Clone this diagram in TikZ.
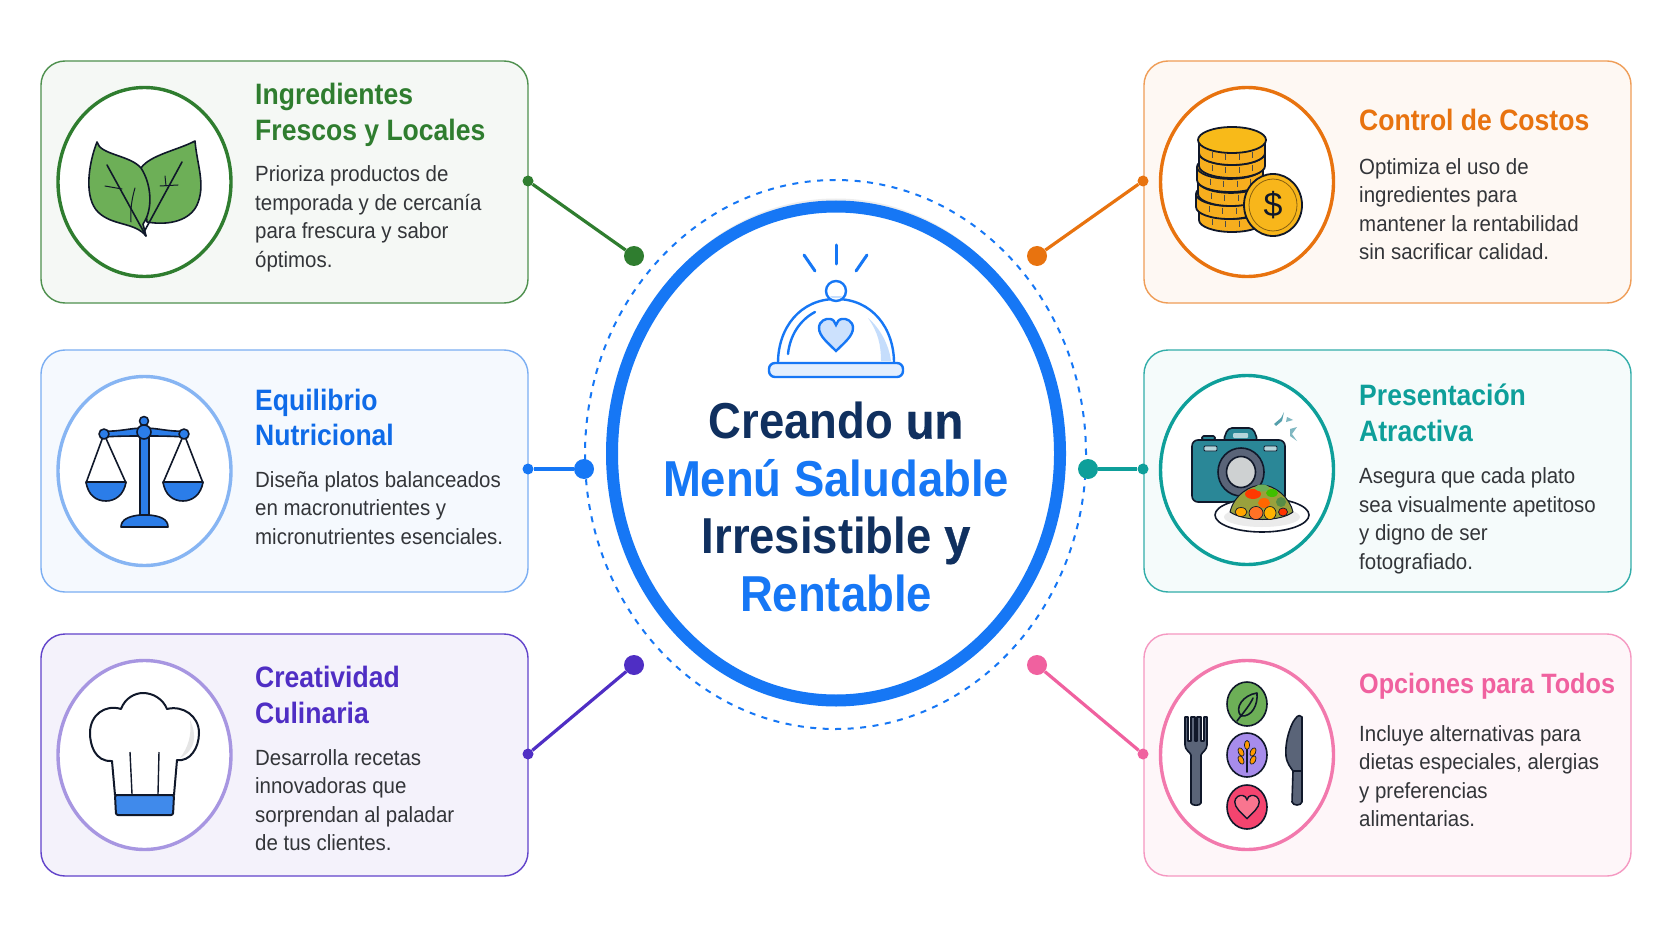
\documentclass[tikz,border=0pt]{standalone}
\usepackage{xcolor}
\usepackage{fontspec}
\usepackage{tikz}
\usetikzlibrary{shapes.geometric,shadows}
\setmainfont{Liberation Sans}
\newfontfamily\headfont[FakeStretch=0.9]{Liberation Sans}
\newfontfamily\copyfont[FakeStretch=0.93]{Liberation Sans}
\newfontfamily\middlefont[FakeStretch=0.93,FakeBold=0.6]{Liberation Sans}

\definecolor{ink}{HTML}{10305F}
\definecolor{copyink}{HTML}{333539}
\definecolor{outline}{HTML}{10182A}
\definecolor{hubblue}{HTML}{1677F5}
\definecolor{freshgreen}{HTML}{2F7D2F}
\definecolor{balanceblue}{HTML}{0F6BE8}
\definecolor{craftviolet}{HTML}{4F2EC4}
\definecolor{costorange}{HTML}{E8730F}
\definecolor{showteal}{HTML}{0E9F9A}
\definecolor{optionpink}{HTML}{F0619F}
\definecolor{leaffill}{HTML}{6DAF57}
\definecolor{scalefill}{HTML}{2B7DE9}
\definecolor{coinfill}{HTML}{F7AE1E}
\definecolor{camerafill}{HTML}{2A8797}
\definecolor{cutlery}{HTML}{5A6478}
\definecolor{grainviolet}{HTML}{A78CEB}

\tikzset{
    cardbox/.style 2 args={draw=#1, fill=#2, rounded corners=24pt, line width=1.4pt,
        minimum width=487pt, minimum height=242pt, inner sep=0pt},
    iconring/.style={ellipse, draw=#1, fill=white, line width=3.4pt,
        minimum width=173pt, minimum height=189pt, inner sep=0pt},
    cardhead/.style={text=#1, anchor=west, align=left, inner sep=0pt,
        font=\headfont\bfseries\fontsize{29.5}{35.5}\selectfont},
    cardcopy/.style={text=copyink, anchor=west, align=left, inner sep=0pt,
        font=\copyfont\fontsize{22}{28.5}\selectfont},
    bigdot/.style={circle, fill=#1, minimum size=20pt, inner sep=0pt},
    smalldot/.style={circle, fill=#1, minimum size=11pt, inner sep=0pt},
    link/.style={draw=#1, line width=3.2pt},
    iconline/.style={draw=outline, line width=1.6pt, line join=round, line cap=round},
    heartmark/.pic={
        \path[pic actions, yscale=-1] (0,16) .. controls (-8,8) and (-17,1) .. (-17,-7)
            .. controls (-17,-14) and (-10,-17) .. (-6,-16)
            .. controls (-3,-16) and (-1,-13) .. (0,-10)
            .. controls (1,-13) and (3,-16) .. (6,-16)
            .. controls (10,-17) and (17,-14) .. (17,-7)
            .. controls (17,1) and (8,8) .. (0,16) -- cycle;
    },
    coinlayer/.pic={
        \begin{scope}[yscale=-1]
        \path[pic actions] (-33,0) -- (-33,13) arc (180:0:33 and 12) -- (33,0) arc (0:-180:33 and 12) -- cycle;
        \draw[line width=1.6pt, draw=outline] (-33,0) arc (180:0:33 and 12);
        \draw[line width=.8pt, draw=black!70] (-20,12) -- (-20,18) (-7,14) -- (-7,20) (7,14) -- (7,20) (20,12) -- (20,18);
        \end{scope}
    },
    coinstyle/.style={fill=coinfill, draw=outline, line width=1.8pt, line join=round},
}

\begin{document}
\begin{tikzpicture}[x=1pt, y=1pt, yscale=-1]
    \useasboundingbox[fill=white] (0, 0) rectangle (1672, 941);

    % cards
    \node[cardbox={freshgreen!85}{freshgreen!5}] (freshcard) at (284.5, 182) {};
    \node[cardbox={balanceblue!55!white}{balanceblue!4}] (balancecard) at (284.5, 471) {};
    \node[cardbox={craftviolet!90}{craftviolet!6}] (craftcard) at (284.5, 755) {};
    \node[cardbox={costorange!70!white}{costorange!5}] (costcard) at (1387.5, 182) {};
    \node[cardbox={showteal!85}{showteal!4}] (showcard) at (1387.5, 471) {};
    \node[cardbox={optionpink!65!white}{optionpink!6}] (optioncard) at (1387.5, 755) {};

    % rings
    \node[iconring=freshgreen] (freshring) at (144.5, 182) {};
    \node[iconring=balanceblue!50!white] (balancering) at (144.5, 471) {};
    \node[iconring=craftviolet!50!white] (craftring) at (144.5, 755) {};
    \node[iconring=costorange] (costring) at (1247, 182) {};
    \node[iconring=showteal] (showring) at (1247, 470) {};
    \node[iconring=optionpink!85!white] (optionring) at (1247, 755) {};

    % texts of the cards
    \node[cardhead=freshgreen] (freshhead) at (255, 115) {Ingredientes\\Frescos y Locales};
    \node[cardcopy] (freshcopy) at (255, 219) {Prioriza productos de\\temporada y de cercanía\\para frescura y sabor\\óptimos.};
    \node[cardhead=balanceblue] (balancehead) at (255, 417.5) {Equilibrio\\Nutricional};
    \node[cardcopy] (balancecopy) at (255, 508) {Diseña platos balanceados\\en macronutrientes y\\micronutrientes esenciales.};
    \node[cardhead=craftviolet] (crafthead) at (255, 695) {Creatividad\\Culinaria};
    \node[cardcopy] (craftcopy) at (255, 800) {Desarrolla recetas\\innovadoras que\\sorprendan al paladar\\de tus clientes.};
    \node[cardhead=costorange] (costhead) at (1359, 120) {Control de Costos};
    \node[cardcopy] (costcopy) at (1359, 209) {Optimiza el uso de\\ingredientes para\\mantener la rentabilidad\\sin sacrificar calidad.};
    \node[cardhead=showteal] (showhead) at (1359, 413) {Presentación\\Atractiva};
    \node[cardcopy] (showcopy) at (1359, 521) {Asegura que cada plato\\sea visualmente apetitoso\\y digno de ser\\fotografiado.};
    \node[cardhead=optionpink, font=\headfont\bfseries\fontsize{28}{35}\selectfont] (optionhead) at (1359, 686) {Opciones para Todos};
    \node[cardcopy] (optioncopy) at (1359, 776) {Incluye alternativas para\\dietas especiales, alergias\\y preferencias\\alimentarias.};

    % central disc
    \node[ellipse, draw=hubblue, dash pattern=on 6pt off 6.5pt, line width=2pt, minimum width=501pt, minimum height=549pt, inner sep=0pt] (hubring) at (835.5, 454.5) {};
    \node[ellipse, draw=hubblue, fill=white, line width=12pt, minimum width=448pt, minimum height=494pt, inner sep=0pt,
        drop shadow={opacity=.14, shadow xshift=0pt, shadow yshift=8pt}] (hub) at (836, 453.5) {};
    \node[align=center, inner sep=0pt, text=ink, font=\headfont\fontsize{50.5}{57.6}\selectfont] (hubtitle) at (836, 507)
        {\bfseries Creando {\middlefont un}\\\bfseries\textcolor{hubblue}{Menú Saludable}\\\bfseries Irresistible {\middlefont y}\\\bfseries\textcolor{hubblue}{Rentable}};

    % connectors
    \node[smalldot=freshgreen] (freshtab) at (528, 181) {};
    \node[bigdot=freshgreen] (freshdot) at (634, 256) {};
    \draw[link=freshgreen] (freshtab) -- (freshdot);
    \node[smalldot=hubblue] (balancetab) at (528, 469) {};
    \node[bigdot=hubblue] (balancedot) at (584, 469) {};
    \draw[link=hubblue] (balancetab) -- (balancedot);
    \node[smalldot=craftviolet] (crafttab) at (528, 754) {};
    \node[bigdot=craftviolet] (craftdot) at (634, 665) {};
    \draw[link=craftviolet] (crafttab) -- (craftdot);
    \node[smalldot=costorange] (costtab) at (1143, 181) {};
    \node[bigdot=costorange] (costdot) at (1037, 256) {};
    \draw[link=costorange] (costtab) -- (costdot);
    \node[smalldot=showteal] (showtab) at (1143, 469) {};
    \node[bigdot=showteal] (showdot) at (1088, 469) {};
    \draw[link=showteal] (showtab) -- (showdot);
    \node[smalldot=optionpink] (optiontab) at (1143, 754) {};
    \node[bigdot=optionpink] (optiondot) at (1037, 665) {};
    \draw[link=optionpink] (optiontab) -- (optiondot);

    % cloche
    \begin{scope}[draw=hubblue, line width=3pt, line cap=round]
        \draw (836, 245) -- (836, 264);
        \draw (804, 255) -- (815, 271);
        \draw (867, 255) -- (856, 271);
        \filldraw[line width=2.4pt, fill=white] (778, 363) .. controls (778, 328) and (800, 299) .. (836, 299) .. controls (872, 299) and (894, 328) .. (894, 363);
        \fill[hubblue!25] (868, 318) .. controls (880, 328) and (889, 345) .. (891, 361) -- (881, 361) .. controls (881, 345) and (878, 332) .. (868, 318) -- cycle;
        \draw[line width=2.4pt, fill=white] (836, 291) circle (10);
        \fill[hubblue!25] (830, 296) -- (842, 296) -- (840, 298) -- (832, 298) -- cycle;
        \draw[line width=2.4pt] (788, 354) .. controls (790, 335) and (800, 320) .. (815, 312);
        \draw[line width=2.4pt, fill=hubblue!12, rounded corners=6pt] (769, 363) rectangle (903, 377);
        \pic[draw=hubblue, fill=hubblue!22, line width=2.4pt] at (836, 335) {heartmark};
    \end{scope}

    % leaves
    \begin{scope}[iconline]
        \filldraw[fill=leaffill] (195, 141) .. controls (197, 165) and (206, 185) .. (197, 205) .. controls (190, 220) and (170, 226) .. (147, 222) -- (141, 168) .. controls (150, 155) and (178, 150) .. (195, 141) -- cycle;
        \filldraw[fill=leaffill] (97, 142) .. controls (100, 155) and (130, 155) .. (141, 168) .. controls (152, 185) and (153, 210) .. (143, 224) -- (146, 236) .. controls (135, 222) and (112, 226) .. (98, 212) .. controls (84, 198) and (88, 165) .. (97, 142) -- cycle;
        \draw (107, 165) -- (146, 236);
        \draw (182, 162) -- (144, 232);
        \draw[line width=1pt] (105, 186) -- (122, 189);
        \draw[line width=1pt] (131, 222) .. controls (130, 210) and (132, 198) .. (135, 188);
        \draw[line width=1pt] (160, 186) -- (178, 185);
        \draw[line width=1pt] (165, 176) -- (166, 186);
    \end{scope}

    % scale
    \begin{scope}[iconline]
        \draw (104, 434) -- (86, 483) (104, 434) -- (126, 483);
        \draw (184, 434) -- (163, 483) (184, 434) -- (203, 483);
        \filldraw[fill=scalefill] (86, 482) -- (126, 482) .. controls (124, 495) and (115, 501) .. (106, 501) .. controls (96, 501) and (88, 495) .. (86, 482) -- cycle;
        \filldraw[fill=scalefill] (163, 482) -- (203, 482) .. controls (201, 495) and (192, 501) .. (183, 501) .. controls (173, 501) and (165, 495) .. (163, 482) -- cycle;
        \filldraw[fill=scalefill] (104, 431) .. controls (118, 432) and (130, 428) .. (144, 428) .. controls (158, 428) and (170, 432) .. (184, 431) -- (184, 437) .. controls (170, 436) and (158, 436) .. (144, 436) .. controls (130, 436) and (118, 436) .. (104, 437) -- cycle;
        \filldraw[fill=scalefill] (140, 435) rectangle (149, 516);
        \filldraw[fill=scalefill] (121, 527) .. controls (121, 519) and (130, 516) .. (140, 515) -- (149, 515) .. controls (160, 516) and (168, 519) .. (168, 527) -- cycle;
        \filldraw[fill=scalefill] (104, 434) circle (5);
        \filldraw[fill=scalefill] (184, 434) circle (5);
        \filldraw[fill=scalefill] (144, 421) circle (4.5);
        \filldraw[fill=scalefill] (144, 432) circle (7);
    \end{scope}

    % chef hat
    \begin{scope}[draw=outline, line width=2pt, line join=round]
        \filldraw[fill=white] (115, 795) -- (112, 761) .. controls (95, 762) and (90, 745) .. (90, 733) .. controls (90, 715) and (105, 704) .. (121, 709) .. controls (125, 698) and (135, 693) .. (143, 693) .. controls (153, 693) and (163, 699) .. (167, 709) .. controls (183, 705) and (199, 716) .. (199, 733) .. controls (199, 748) and (190, 762) .. (177, 760) -- (174, 795) -- cycle;
        \fill[black!10] (190, 720) .. controls (197, 735) and (196, 750) .. (180, 758) .. controls (188, 748) and (192, 735) .. (190, 720) -- cycle;
        \draw[line width=1.4pt] (130, 752) -- (132, 794);
        \draw[line width=1.4pt] (159, 752) -- (158, 794);
        \filldraw[fill=scalefill!90!white, rounded corners=2pt] (115, 795) -- (174, 795) -- (173, 815) -- (116, 815) -- cycle;
    \end{scope}

    % coins
    \pic[coinstyle] at (1232, 207) {coinlayer};
    \pic[coinstyle] at (1229, 194) {coinlayer};
    \pic[coinstyle] at (1231, 181) {coinlayer};
    \pic[coinstyle] at (1230, 167) {coinlayer};
    \pic[coinstyle] at (1232, 153) {coinlayer};
    \pic[coinstyle] at (1232, 140) {coinlayer};
    \draw[coinstyle, fill=coinfill!85!yellow] (1232, 140) ellipse (34 and 13);
    \node[ellipse, draw=outline, fill=coinfill!90!yellow, line width=1.8pt, minimum width=58pt, minimum height=62pt, inner sep=0pt] (bigcoin) at (1273, 205) {};
    \node[ellipse, draw=black!45!coinfill, line width=.8pt, minimum width=48pt, minimum height=52pt, inner sep=0pt] (bigcoinrim) at (1273, 205) {};
    \node[text=outline, inner sep=0pt, font=\fontsize{34}{34}\selectfont] (dollar) at (1273, 205) {\$};

    % camera
    \begin{scope}[iconline]
        \filldraw[fill=camerafill, rounded corners=1.5pt] (1202, 440) -- (1202, 436) -- (1215, 436) -- (1215, 440) -- cycle;
        \filldraw[fill=camerafill, rounded corners=4pt] (1223, 441) -- (1228, 428) -- (1253, 428) -- (1258, 441) -- cycle;
        \filldraw[fill=camerafill, rounded corners=6pt] (1192, 440) rectangle (1285, 502);
        \fill[camerafill!35!white, rounded corners=1pt] (1233, 433) rectangle (1248, 438);
        \filldraw[line width=.8pt, fill=camerafill!35!white, rounded corners=1pt] (1204, 446) rectangle (1217, 451);
        \filldraw[line width=.8pt, fill=camerafill!35!white, rounded corners=1pt] (1264, 446) rectangle (1277, 451);
        \filldraw[fill=cutlery] (1241, 472) ellipse (23 and 24);
        \filldraw[fill=camerafill!20!black!20!white] (1241, 472) ellipse (14.5 and 15.5);
        \filldraw[fill=white] (1262, 515) ellipse (47 and 17);
        \fill[black!8] (1262, 517) ellipse (38 and 10);
        \filldraw[line width=1pt, fill=leaffill!70!orange] (1230, 512) .. controls (1234, 495) and (1250, 485) .. (1262, 485) .. controls (1275, 485) and (1290, 498) .. (1293, 512) .. controls (1280, 522) and (1245, 522) .. (1230, 512) -- cycle;
    \end{scope}
    \fill[red!55!orange] (1253, 494) ellipse (8 and 5);
    \fill[leaffill] (1262, 488) ellipse (7 and 3.5);
    \fill[green!50!olive] (1272, 493) ellipse (6 and 4);
    \fill[orange!80!red] (1264, 503) ellipse (6 and 5);
    \fill[leaffill!80!black] (1281, 502) ellipse (5 and 5);
    \filldraw[draw=outline, line width=.7pt, fill=orange!70!red!85!white] (1256, 513) ellipse (7 and 6.5);
    \filldraw[draw=outline, line width=.7pt, fill=orange!60!yellow] (1270, 513) ellipse (6 and 6.5);
    \filldraw[draw=outline, line width=.7pt, fill=orange!70!yellow] (1241, 512) ellipse (6 and 4.5);
    \filldraw[draw=outline, line width=.7pt, fill=red!60!orange] (1283, 512) ellipse (4.5 and 4);
    \fill[camerafill!80!white] (1274, 424) -- (1281, 418) -- (1284, 412) -- (1282, 421) -- (1276, 426) -- cycle;
    \fill[camerafill!60!white] (1287, 417) -- (1293, 420) -- (1286, 422) -- cycle;
    \fill[camerafill!60!white] (1290, 429) -- (1297, 427) -- (1292, 434) -- (1297, 441) -- (1290, 436) -- cycle;

    % cutlery and badges
    \begin{scope}[iconline, fill=cutlery]
        \filldraw (1185, 717) -- (1188, 717) -- (1188, 741) -- (1191, 741) -- (1191, 717) -- (1195, 717) -- (1195, 741) -- (1197, 741) -- (1197, 717) -- (1201, 717) -- (1201, 741) -- (1204, 741) -- (1204, 717) -- (1207, 717) -- (1207, 745) .. controls (1207, 750) and (1202, 752) .. (1201, 755) -- (1201, 803) .. controls (1200, 806) and (1192, 806) .. (1191, 803) -- (1191, 755) .. controls (1190, 752) and (1185, 750) .. (1185, 745) -- cycle;
        \filldraw (1302, 717) .. controls (1298, 713) and (1296, 718) .. (1293, 722) .. controls (1288, 732) and (1285, 745) .. (1286, 756) .. controls (1287, 764) and (1291, 768) .. (1293, 771) -- (1292, 802) .. controls (1293, 806) and (1301, 806) .. (1302, 802) -- cycle;
        \draw (1293, 771) -- (1302, 771);
        \filldraw[fill=leaffill] (1247, 704) ellipse (20 and 22);
        \filldraw[fill=grainviolet] (1247, 755) ellipse (20 and 22);
        \filldraw[fill=optionpink!70!red] (1247, 807) ellipse (20 and 22);
        \draw (1237, 721) .. controls (1243, 713) and (1250, 705) .. (1253, 698);
        \draw (1241, 716) .. controls (1234, 708) and (1243, 695) .. (1257, 693) .. controls (1258, 705) and (1252, 717) .. (1241, 716) -- cycle;
        \draw (1247, 743) -- (1247, 772);
    \end{scope}
    \begin{scope}[draw=outline, line width=.7pt, fill=orange!80!yellow]
        \filldraw (1247, 745) ellipse (2.6 and 4.5);
        \filldraw[rotate around={-25:(1241, 752)}] (1241, 752) ellipse (2.6 and 4.5);
        \filldraw[rotate around={25:(1253, 752)}] (1253, 752) ellipse (2.6 and 4.5);
        \filldraw[rotate around={-25:(1241, 760)}] (1241, 760) ellipse (2.6 and 4.5);
        \filldraw[rotate around={25:(1253, 760)}] (1253, 760) ellipse (2.6 and 4.5);
    \end{scope}
    \pic[draw=outline, fill=optionpink!60!red!70!white, line width=1.4pt, scale=.72] at (1247, 807) {heartmark};
\end{tikzpicture}
\end{document}
